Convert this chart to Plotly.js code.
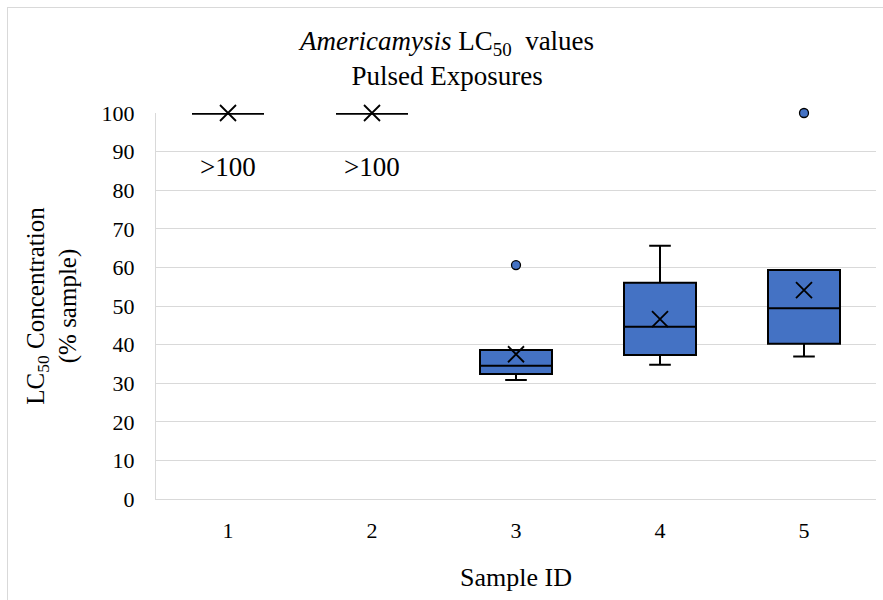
<!DOCTYPE html>
<html>
<head>
<meta charset="utf-8">
<script src="https://cdn.plot.ly/plotly-3.0.1.min.js"></script>
<style>
  html, body { margin: 0; padding: 0; background: #fff; overflow: hidden; }
  #wrap { position: relative; width: 883px; height: 600px; overflow: hidden; }
  #frame { position: absolute; left: 7px; top: 7px; width: 1000px; height: 1000px;
           border-top: 1px solid #d9d9d9; border-left: 1px solid #d9d9d9; pointer-events: none; }
</style>
</head>
<body>
<div id="wrap">
  <div id="chart" style="width:883px;height:600px;"></div>
  <div id="frame"></div>
</div>
<script>
// Sample IDs
const samples = ['1', '2', '3', '4', '5'];
// Box statistics (LC50, % sample)
const lowerWhisker = [100, 100, 30.8, 34.8, 36.9];
const q1Values     = [100, 100, 32.4, 37.3, 40.2];
const medianValues = [100, 100, 34.5, 44.6, 49.4];
const q3Values     = [100, 100, 38.6, 56.0, 59.3];
const upperWhisker = [100, 100, 38.6, 65.6, 59.3];
const meanValues   = [100, 100, 37.5, 46.6, 54.1];
// Outliers
const outlierSamples = ['3', '5'];
const outlierValues  = [60.6, 100];
// Labels for censored values
const censoredSamples = ['1', '2'];
const censoredLabel = '>100';
const censoredLabelY = 86;

const serif = 'Liberation Serif';
const blue = '#4472C4';

// split boxes: collapsed (all values equal) drawn with heavier line
const collapsedIdx = samples.map((s, i) => i).filter(i => q1Values[i] === q3Values[i]);
const normalIdx = samples.map((s, i) => i).filter(i => q1Values[i] !== q3Values[i]);
const pick = (arr, idx) => idx.map(i => arr[i]);

function boxTrace(idx, lw) {
  return {
    type: 'box',
    x: pick(samples, idx),
    q1: pick(q1Values, idx),
    median: pick(medianValues, idx),
    q3: pick(q3Values, idx),
    lowerfence: pick(lowerWhisker, idx),
    upperfence: pick(upperWhisker, idx),
    boxpoints: false,
    width: 0.5,
    whiskerwidth: 0.3,
    fillcolor: blue,
    line: { color: '#000', width: lw },
    hoverinfo: 'skip',
    showlegend: false
  };
}

const traces = [
  boxTrace(normalIdx, 2),
  boxTrace(collapsedIdx, 3.5),
  {
    type: 'scatter',
    mode: 'markers',
    x: samples,
    y: meanValues,
    marker: { symbol: 'x-thin-open', size: 16, color: '#000', line: { color: '#000', width: 1.8 } },
    hoverinfo: 'skip',
    showlegend: false,
    cliponaxis: false
  },
  {
    type: 'scatter',
    mode: 'markers',
    x: outlierSamples,
    y: outlierValues,
    marker: { symbol: 'circle', size: 9, color: blue, line: { color: '#000', width: 1.3 } },
    hoverinfo: 'skip',
    showlegend: false,
    cliponaxis: false
  }
];

const annotations = censoredSamples.map(s => ({
  x: samples.indexOf(s), y: censoredLabelY, xref: 'x', yref: 'y',
  text: censoredLabel, showarrow: false,
  font: { family: serif, size: 27, color: '#000' }
}));
annotations.push({
  xref: 'paper', yref: 'paper', x: 0.403, y: 1.0,
  yshift: 20, xanchor: 'center', yanchor: 'bottom',
  text: '<i>Americamysis</i> LC<sub>50</sub>  values<br>Pulsed Exposures',
  showarrow: false,
  font: { family: serif, size: 27, color: '#000' }
});

const layout = {
  width: 883,
  height: 600,
  margin: { l: 156, r: 7, t: 113, b: 101 },
  paper_bgcolor: '#fff',
  plot_bgcolor: '#fff',
  font: { family: serif, color: '#000' },
  xaxis: {
    type: 'category',
    categoryarray: samples,
    range: [-0.5, 4.5],
    showgrid: false,
    zeroline: false,
    showline: true,
    linecolor: '#d9d9d9',
    linewidth: 1,
    ticks: 'outside',
    ticklen: 12,
    tickcolor: 'rgba(0,0,0,0)',
    tickfont: { family: serif, size: 22, color: '#000' },
    title: { text: 'Sample ID', font: { family: serif, size: 26, color: '#000' }, standoff: 25 }
  },
  yaxis: {
    range: [0, 100],
    dtick: 10,
    showgrid: true,
    gridcolor: '#d9d9d9',
    gridwidth: 1,
    zeroline: false,
    showline: true,
    linecolor: '#d9d9d9',
    ticks: 'outside',
    ticklen: 16,
    tickcolor: 'rgba(0,0,0,0)',
    tickfont: { family: serif, size: 22, color: '#000' },
    title: { text: 'LC<sub>50</sub> Concentration<br>(% sample)', font: { family: serif, size: 25, color: '#000' }, standoff: 17 }
  },
  annotations: annotations,
  showlegend: false
};

Plotly.newPlot('chart', traces, layout, { displayModeBar: false, staticPlot: true });
</script>
</body>
</html>
